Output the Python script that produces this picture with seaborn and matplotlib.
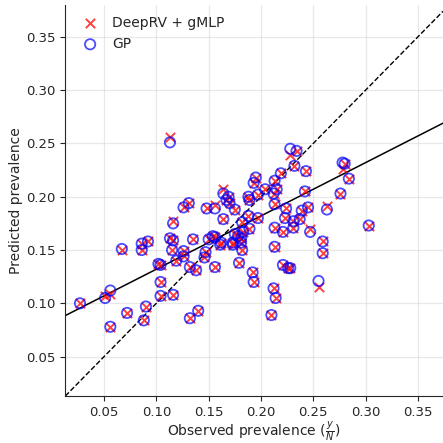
import numpy as np
import pandas as pd
import matplotlib
matplotlib.use("Agg")
import matplotlib.pyplot as plt
import seaborn as sns

# observed prevalence (x) and predictions of the two models (y)
observed = [
    0.027, 0.051, 0.056, 0.056, 0.067, 0.072, 0.086, 0.086, 0.092, 0.088,
    0.090, 0.102, 0.104, 0.104, 0.104, 0.113, 0.113, 0.116, 0.115, 0.116,
    0.116, 0.119, 0.126, 0.126, 0.126, 0.131, 0.132, 0.132, 0.135, 0.138,
    0.140, 0.146, 0.147, 0.148, 0.150, 0.154, 0.156, 0.156, 0.156, 0.161,
    0.162, 0.164, 0.164, 0.169, 0.167, 0.170, 0.173, 0.173, 0.175, 0.175,
    0.178, 0.179, 0.181, 0.181, 0.182, 0.182, 0.183, 0.188, 0.188, 0.189,
    0.189, 0.192, 0.193, 0.193, 0.195, 0.197, 0.197, 0.204, 0.210, 0.212,
    0.212, 0.213, 0.215, 0.213, 0.213, 0.213, 0.214, 0.219, 0.221, 0.221,
    0.223, 0.224, 0.226, 0.228, 0.228, 0.234, 0.232, 0.231, 0.231, 0.237,
    0.239, 0.242, 0.243, 0.245, 0.247, 0.255, 0.259, 0.259, 0.263, 0.276,
    0.278, 0.280, 0.284, 0.303,
]
pred_deeprv = [
    0.100, 0.107, 0.109, 0.078, 0.150, 0.091, 0.156, 0.150, 0.158, 0.084,
    0.097, 0.137, 0.136, 0.120, 0.107, 0.256, 0.161, 0.159, 0.150, 0.177,
    0.108, 0.140, 0.149, 0.144, 0.190, 0.194, 0.134, 0.086, 0.160, 0.131,
    0.093, 0.143, 0.148, 0.189, 0.160, 0.163, 0.192, 0.134, 0.162, 0.155,
    0.157, 0.179, 0.207, 0.200, 0.197, 0.194, 0.155, 0.157, 0.188, 0.165,
    0.163, 0.138, 0.157, 0.161, 0.150, 0.176, 0.167, 0.182, 0.200, 0.197,
    0.170, 0.129, 0.120, 0.213, 0.218, 0.180, 0.202, 0.207, 0.089, 0.114,
    0.203, 0.215, 0.207, 0.193, 0.171, 0.153, 0.105, 0.222, 0.167, 0.136,
    0.180, 0.189, 0.133, 0.133, 0.239, 0.243, 0.229, 0.177, 0.171, 0.179,
    0.187, 0.205, 0.224, 0.190, 0.170, 0.115, 0.158, 0.147, 0.191, 0.203,
    0.226, 0.231, 0.217, 0.173,
]
pred_gp = [
    0.100, 0.105, 0.112, 0.078, 0.151, 0.091, 0.156, 0.150, 0.158, 0.084,
    0.097, 0.137, 0.136, 0.120, 0.107, 0.251, 0.161, 0.159, 0.150, 0.175,
    0.108, 0.140, 0.149, 0.144, 0.190, 0.194, 0.134, 0.086, 0.160, 0.131,
    0.093, 0.143, 0.148, 0.189, 0.160, 0.163, 0.189, 0.134, 0.162, 0.155,
    0.157, 0.179, 0.203, 0.200, 0.197, 0.194, 0.155, 0.157, 0.188, 0.165,
    0.163, 0.138, 0.157, 0.161, 0.150, 0.176, 0.167, 0.182, 0.200, 0.197,
    0.170, 0.129, 0.120, 0.213, 0.218, 0.180, 0.202, 0.207, 0.089, 0.114,
    0.203, 0.215, 0.207, 0.193, 0.171, 0.153, 0.105, 0.222, 0.167, 0.136,
    0.180, 0.189, 0.133, 0.133, 0.245, 0.243, 0.229, 0.177, 0.171, 0.179,
    0.187, 0.205, 0.224, 0.190, 0.167, 0.121, 0.158, 0.147, 0.188, 0.203,
    0.232, 0.231, 0.217, 0.173,
]

# least squares fit shown as solid line
fit_intercept = 0.082
fit_slope = 0.50

df = pd.DataFrame({
    "observed": observed,
    "deeprv": pred_deeprv,
    "gp": pred_gp,
})

sns.set_style("ticks")
plt.rcParams["font.family"] = ["DejaVu Sans"]

fig = plt.figure(figsize=(4.43, 4.43), dpi=100)
ax = fig.add_axes([0.147, 0.106, 0.853, 0.883])

sns.scatterplot(data=df, x="observed", y="deeprv", ax=ax, marker="x",
                color="red", s=45, linewidth=1.4, alpha=0.75,
                label="DeepRV + gMLP", zorder=3)
sns.scatterplot(data=df, x="observed", y="gp", ax=ax, marker="o",
                facecolor="none", edgecolor="blue", s=55, linewidth=1.3,
                alpha=0.7, label="GP", zorder=4)

# identity line and fitted line
ax.axline((0, 0), slope=1, color="black", linestyle="--", linewidth=1.0)
ax.axline((0, fit_intercept), slope=fit_slope, color="black", linewidth=1.1)

ax.set_xlim(0.0128, 0.374)
ax.set_ylim(0.013, 0.380)
ax.set_xticks([0.05, 0.10, 0.15, 0.20, 0.25, 0.30, 0.35])
ax.set_yticks([0.05, 0.10, 0.15, 0.20, 0.25, 0.30, 0.35])
ax.xaxis.set_major_formatter(plt.FormatStrFormatter("%.2f"))
ax.yaxis.set_major_formatter(plt.FormatStrFormatter("%.2f"))
ax.tick_params(labelsize=9.5)
ax.grid(True, color="lightgray", alpha=0.5, linewidth=0.9)
ax.set_axisbelow(True)
sns.despine(ax=ax)

ax.set_xlabel(r"Observed prevalence ($\frac{y}{N}$)", fontsize=10, labelpad=0)
ax.set_ylabel("Predicted prevalence", fontsize=10, labelpad=2)

ax.legend(loc="upper left", frameon=False, fontsize=10, handletextpad=0.6,
          borderaxespad=0.4)

fig.savefig("out.png", dpi=100)
